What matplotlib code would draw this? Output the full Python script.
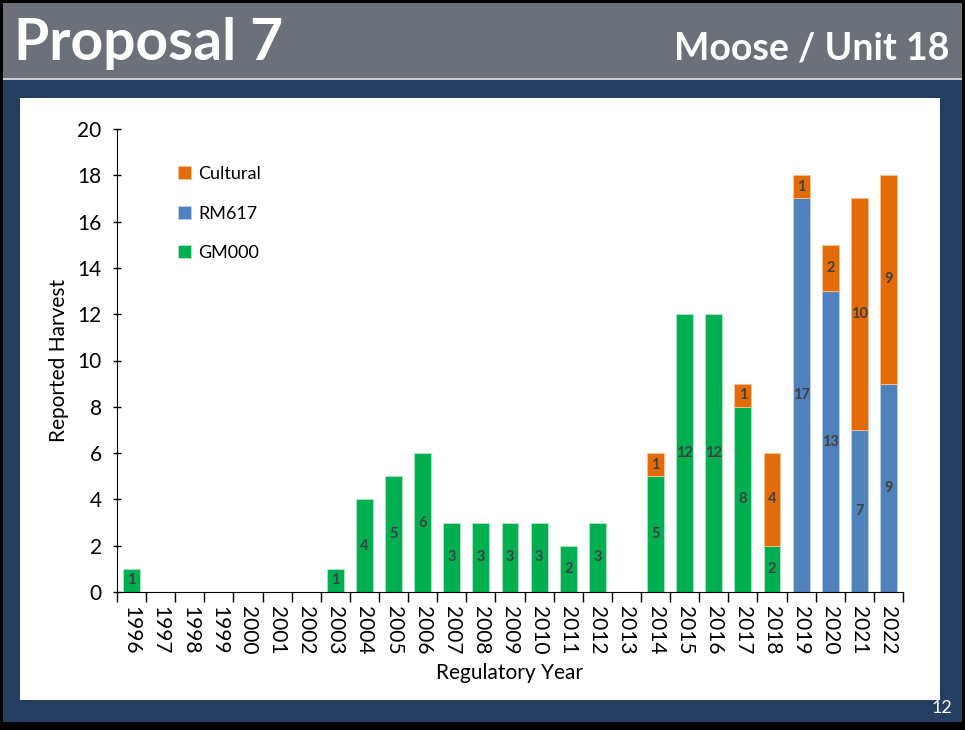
import matplotlib.pyplot as plt
from matplotlib.patches import Rectangle
import numpy as np

years = [str(y) for y in range(1996, 2023)]
gm000 = [1, 0, 0, 0, 0, 0, 0, 1, 4, 5, 6, 3, 3, 3, 3, 2, 3, 0, 5, 12, 12, 8, 2, 0, 0, 0, 0]
rm617 = [0, 0, 0, 0, 0, 0, 0, 0, 0, 0, 0, 0, 0, 0, 0, 0, 0, 0, 0, 0, 0, 0, 0, 17, 13, 7, 9]
cultural = [0, 0, 0, 0, 0, 0, 0, 0, 0, 0, 0, 0, 0, 0, 0, 0, 0, 0, 1, 0, 0, 1, 4, 1, 2, 10, 9]

plt.rcParams['font.family'] = ['Lato', 'DejaVu Sans']

W, H = 965, 730
fig = plt.figure(figsize=(W / 100, H / 100), dpi=100, facecolor='black')


def px_rect(x0, y0, x1, y1, color):
    fig.patches.append(Rectangle((x0 / W, 1 - y1 / H), (x1 - x0) / W, (y1 - y0) / H,
                                 transform=fig.transFigure, facecolor=color,
                                 edgecolor='none', zorder=-5))


# slide background
px_rect(3, 3, 962, 78, '#6b7079')
px_rect(3, 78, 962, 80, '#c8cbd0')
px_rect(3, 80, 962, 722, '#243f60')
px_rect(20, 98, 940, 700, 'white')

fig.text(14 / W, 1 - 43 / H, 'Proposal 7', color='white', fontsize=41,
         fontweight='bold', va='center', ha='left')
fig.text(950 / W, 1 - 49 / H, 'Moose / Unit 18', color='white', fontsize=27,
         fontweight='bold', va='center', ha='right')
fig.text(952 / W, 1 - 708 / H, '12', color='white', fontsize=13,
         va='center', ha='right')

ax = fig.add_axes([117 / W, 1 - 592 / H, (903 - 117) / W, (592 - 129) / H])

x = np.arange(len(years))
gm = np.array(gm000)
rm = np.array(rm617)
cu = np.array(cultural)
bw = 0.58

series = [
    ('GM000', gm, np.zeros_like(gm), '#00b050', '#b0e8c4'),
    ('RM617', rm, gm, '#4f81bd', '#c0d2ea'),
    ('Cultural', cu, gm + rm, '#e36c09', '#f5c49a'),
]
handles = {}
for name, vals, bottom, col, ec in series:
    m = vals > 0
    handles[name] = ax.bar(x[m], vals[m], bw, bottom=bottom[m], color=col,
                           edgecolor=ec, linewidth=0.6, label=name)
    for xi, v, b in zip(x[m], vals[m], bottom[m]):
        ax.text(xi, b + v / 2, str(v), ha='center', va='center', fontsize=10.5,
                fontweight='bold', color='#404040')

ax.set_xlim(-0.5, len(years) - 0.5)
ax.set_ylim(0, 20)
ax.set_yticks(range(0, 21, 2))
ax.set_xticks(x)
ax.set_xticklabels(years, rotation=270, fontsize=15)
ax.set_xticks(np.arange(-0.5, len(years), 1), minor=True)
ax.tick_params(axis='x', which='major', length=0, pad=10)
ax.tick_params(axis='x', which='minor', length=7, direction='out', width=1)
ax.tick_params(axis='y', labelsize=15, length=6, direction='inout', width=1, pad=8)
for s in ('top', 'right'):
    ax.spines[s].set_visible(False)
ax.set_ylabel('Reported Harvest', fontsize=15, labelpad=6)
ax.set_xlabel('Regulatory Year', fontsize=15, labelpad=6)

ax.legend([handles['Cultural'], handles['RM617'], handles['GM000']],
          ['Cultural', 'RM617', 'GM000'], loc='upper left',
          bbox_to_anchor=(0.057, 0.955), frameon=False, fontsize=13,
          handlelength=0.7, handleheight=0.7, labelspacing=1.3, handletextpad=0.4)

fig.savefig('out.png', dpi=100, facecolor='black')
